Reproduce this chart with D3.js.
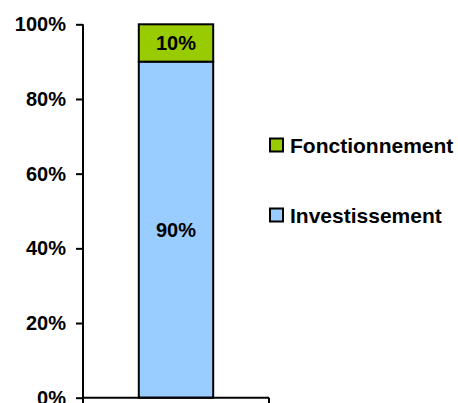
<!DOCTYPE html>
<html>
<head>
<meta charset="utf-8">
<script src="https://cdn.jsdelivr.net/npm/d3@7"></script>
<style>
  body { margin: 0; background: #fff; }
  text { font-family: Arial, "Liberation Sans", sans-serif; font-weight: bold; }
</style>
</head>
<body>
<svg id="chart" width="458" height="403"></svg>
<script>
// data
var categories = ['Budget'];
var seriesNames = ['Investissement', 'Fonctionnement'];
var investissement = [90];
var fonctionnement = [10];
var tickValues = [0, 20, 40, 60, 80, 100];
var colors = ['#99CCFF', '#99CC00'];

var svg = d3.select('#chart');
// plot area edges (careful: "top" is taken by window)
var plotLeft = 83, plotRight = 269, plotTop = 24.3, plotBottom = 397.7;

var x = d3.scaleBand().domain(categories).range([plotLeft, plotRight]).paddingInner(0.6).paddingOuter(0.3);
var y = d3.scaleLinear().domain([0, 100]).range([plotBottom, plotTop]);

// stack the two series
var rows = categories.map(function(c, i){
    return { cat: c, Investissement: investissement[i], Fonctionnement: fonctionnement[i] };
});
var stacked = d3.stack().keys(seriesNames)(rows);

var layers = svg.selectAll('g.layer').data(stacked).enter().append('g')
    .attr('class', 'layer')
    .attr('fill', function(d, i){ return colors[i]; });

layers.selectAll('rect').data(function(d){ return d; }).enter().append('rect')
    .attr('x', function(d){ return x(d.data.cat); })
    .attr('width', x.bandwidth())
    .attr('y', function(d){ return y(d[1]); })
    .attr('height', function(d){ return y(d[0]) - y(d[1]); })
    .attr('stroke', '#000')
    .attr('stroke-width', 2);

// value labels
layers.selectAll('text.val').data(function(d){ return d; }).enter().append('text')
    .attr('class', 'val')
    .attr('x', function(d){ return x(d.data.cat) + x.bandwidth() / 2; })
    .attr('y', function(d){ return (y(d[0]) + y(d[1])) / 2; })
    .attr('dy', '0.36em')
    .attr('text-anchor', 'middle')
    .attr('fill', '#000')
    .style('font-size', '20px')
    .text(function(d){ return (d[1] - d[0]) + '%'; });

// y axis
var yAxis = svg.append('g').attr('transform', 'translate(' + plotLeft + ',0)')
    .call(d3.axisLeft(y).tickValues(tickValues).tickSize(7).tickPadding(10)
        .tickFormat(function(d){ return d + '%'; }));
yAxis.select('.domain').attr('stroke-width', 2).attr('d', 'M0,' + plotTop + 'V' + plotBottom);
yAxis.selectAll('.tick line').attr('stroke-width', 2);
yAxis.selectAll('text').style('font-size', '20px').attr('fill', '#000');

// x axis
var xAxis = svg.append('g').attr('transform', 'translate(0,' + plotBottom + ')');
xAxis.append('line').attr('x1', plotLeft).attr('x2', plotRight).attr('stroke', '#000').attr('stroke-width', 2);
xAxis.selectAll('line.tk').data([plotLeft, plotRight]).enter().append('line')
    .attr('class', 'tk')
    .attr('x1', function(d){ return d; }).attr('x2', function(d){ return d; })
    .attr('y1', 0).attr('y2', 7)
    .attr('stroke', '#000').attr('stroke-width', 2);

// legend
var legendItems = [
    { name: 'Fonctionnement', color: colors[1], yy: 145 },
    { name: 'Investissement', color: colors[0], yy: 215 }
];
var legend = svg.selectAll('g.legend').data(legendItems).enter().append('g')
    .attr('class', 'legend')
    .attr('transform', function(d){ return 'translate(270,' + d.yy + ')'; });
legend.append('rect')
    .attr('x', 0).attr('y', -6.5).attr('width', 13).attr('height', 13)
    .attr('fill', function(d){ return d.color; })
    .attr('stroke', '#000').attr('stroke-width', 2);
legend.append('text')
    .attr('x', 20).attr('dy', '0.36em')
    .style('font-size', '21px')
    .text(function(d){ return d.name; });
</script>
</body>
</html>
